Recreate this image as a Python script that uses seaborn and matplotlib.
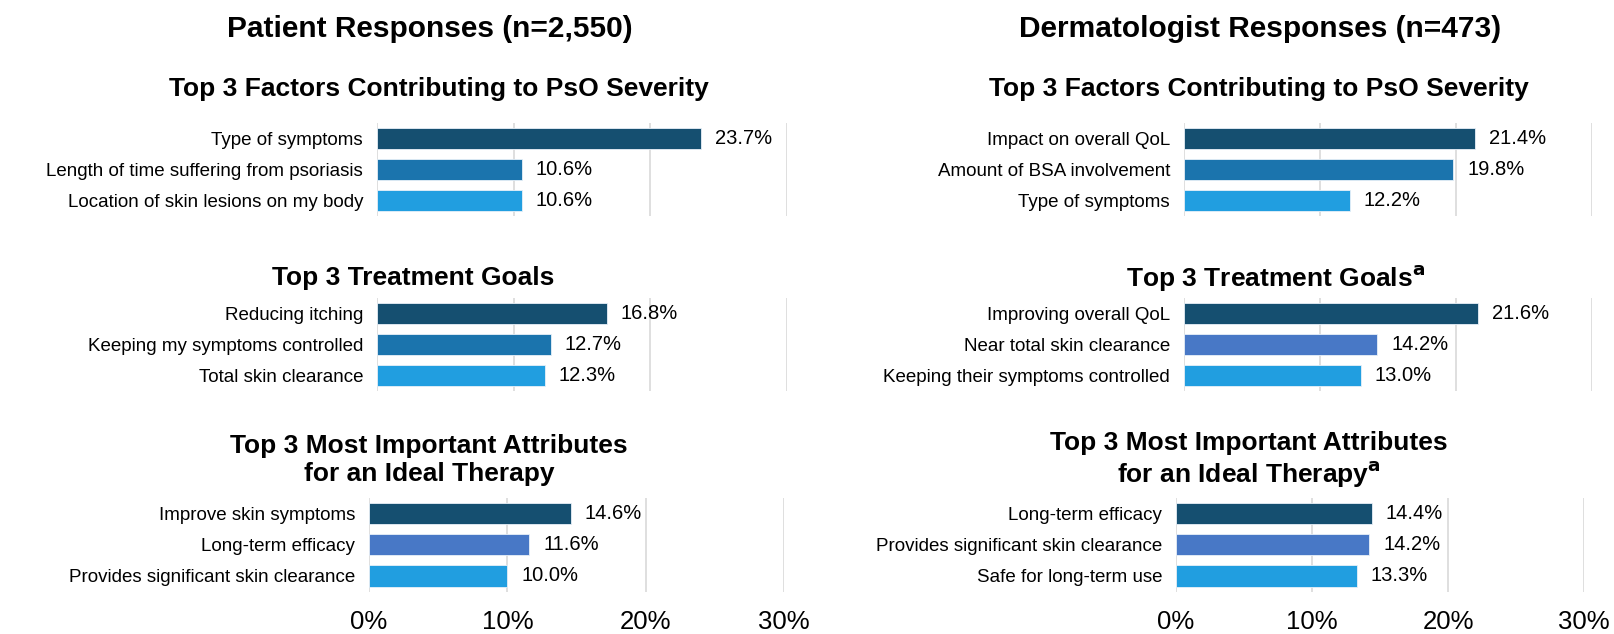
import matplotlib
matplotlib.use("Agg")
import matplotlib.pyplot as plt
import seaborn as sns
import pandas as pd

# data
pt_sev_labels = ["Type of symptoms", "Length of time suffering from psoriasis",
                 "Location of skin lesions on my body"]
pt_sev_values = [23.7, 10.6, 10.6]
pt_goal_labels = ["Reducing itching", "Keeping my symptoms controlled", "Total skin clearance"]
pt_goal_values = [16.8, 12.7, 12.3]
pt_attr_labels = ["Improve skin symptoms", "Long-term efficacy",
                  "Provides significant skin clearance"]
pt_attr_values = [14.6, 11.6, 10.0]

derm_sev_labels = ["Impact on overall QoL", "Amount of BSA involvement", "Type of symptoms"]
derm_sev_values = [21.4, 19.8, 12.2]
derm_goal_labels = ["Improving overall QoL", "Near total skin clearance",
                    "Keeping their symptoms controlled"]
derm_goal_values = [21.6, 14.2, 13.0]
derm_attr_labels = ["Long-term efficacy", "Provides significant skin clearance",
                    "Safe for long-term use"]
derm_attr_values = [14.4, 14.2, 13.3]

x_ticks = [0, 10, 20, 30]
x_tick_labels = ["0%", "10%", "20%", "30%"]

DARK, MED, LIGHT, PERI = "#154f70", "#1b74ad", "#219ee0", "#4878c6"

sns.set_theme(style="white")
plt.rcParams["font.family"] = ["Liberation Sans", "DejaVu Sans"]
plt.rcParams["text.color"] = "black"
plt.rcParams["xtick.color"] = "black"
plt.rcParams["ytick.color"] = "black"

W, H = 1614, 634
fig = plt.figure(figsize=(W / 100, H / 100), dpi=100)


def title(x, y, text, size=19):
    fig.text(x / W, 1 - y / H, text, ha="center", va="center", fontsize=size,
             fontweight="bold", linespacing=1.17)


def panel(x0, x1, y0, y1, labels, values, colors, show_ticks=False):
    ax = fig.add_axes([x0 / W, 1 - y1 / H, (x1 - x0) / W, (y1 - y0) / H])
    df = pd.DataFrame({"label": labels, "value": values})
    sns.barplot(data=df, x="value", y="label", hue="label", palette=colors,
                saturation=1, legend=False, width=0.68, ax=ax,
                edgecolor="#e8f0f8", linewidth=0.6)
    ax.set_xlim(0, 30)
    ax.set_ylim(2.5, -0.5)
    ax.set_xticks(x_ticks)
    ax.xaxis.grid(True, color="#d9d9d9", linewidth=1.2)
    ax.set_axisbelow(True)
    for s in ax.spines.values():
        s.set_visible(False)
    ax.set_xlabel("")
    ax.set_ylabel("")
    ax.tick_params(axis="y", length=0, pad=10, labelsize=13.5)
    if show_ticks:
        ax.set_xticklabels(x_tick_labels, fontsize=18.5)
        ax.tick_params(axis="x", length=0, pad=13.5)
    else:
        ax.set_xticklabels([])
        ax.tick_params(axis="x", length=0)
    for c in ax.containers:
        ax.bar_label(c, fmt="%.1f%%", padding=10, fontsize=14.5)
    return ax


# left column: patients
title(430, 29, "Patient Responses (n=2,550)", size=21.5)
panel(377, 787, 123, 216, pt_sev_labels, pt_sev_values, [DARK, MED, LIGHT])
title(439, 89, "Top 3 Factors Contributing to PsO Severity")
panel(377, 787, 298, 391, pt_goal_labels, pt_goal_values, [DARK, MED, LIGHT])
title(413, 278, "Top 3 Treatment Goals")
panel(369, 784, 498, 591.5, pt_attr_labels, pt_attr_values, [DARK, PERI, LIGHT],
      show_ticks=True)
title(429, 460, "Top 3 Most Important Attributes\nfor an Ideal Therapy")

# right column: dermatologists
title(1260, 29, "Dermatologist Responses (n=473)", size=21.5)
panel(1184, 1592, 123, 216, derm_sev_labels, derm_sev_values, [DARK, MED, LIGHT])
title(1259, 89, "Top 3 Factors Contributing to PsO Severity")
panel(1184, 1592, 298, 391, derm_goal_labels, derm_goal_values, [DARK, PERI, LIGHT])
title(1276, 278, r"Top 3 Treatment Goals$^{\mathbf{a}}$")
panel(1176, 1584, 498, 591.5, derm_attr_labels, derm_attr_values, [DARK, PERI, LIGHT],
      show_ticks=True)
title(1249, 460, "Top 3 Most Important Attributes\n" + r"for an Ideal Therapy$^{\mathbf{a}}$")

fig.savefig("out.png", dpi=100)
